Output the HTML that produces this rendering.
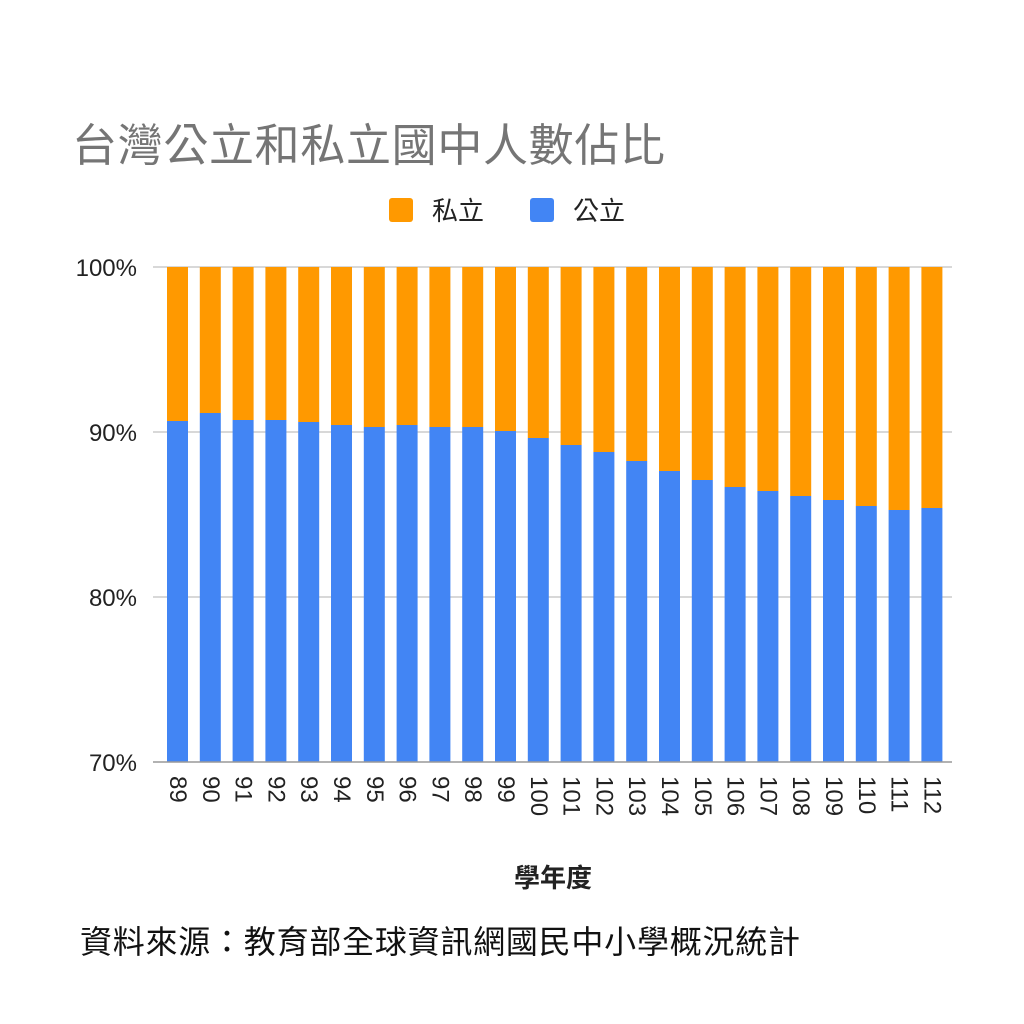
<!DOCTYPE html>
<html><head><meta charset="utf-8"><style>body{margin:0;background:#fff}</style></head><body>
<svg width="1024" height="1024" xmlns="http://www.w3.org/2000/svg" style="display:block">
<rect width="1024" height="1024" fill="#fff"/>
<text x="72" y="161" font-family="Liberation Sans, Noto Sans CJK TC, sans-serif" font-size="45" fill="#757575" textLength="593">台灣公立和私立國中人數佔比</text>
<rect x="389" y="198" width="24" height="24" rx="3" fill="#ff9900"/>
<text x="432" y="220" font-family="Liberation Sans, Noto Sans CJK TC, sans-serif" font-size="26" fill="#222">私立</text>
<rect x="530" y="198" width="24" height="24" rx="3" fill="#4285f4"/>
<text x="573" y="220" font-family="Liberation Sans, Noto Sans CJK TC, sans-serif" font-size="26" fill="#222">公立</text>
<g stroke="#ccc" stroke-width="1.5">
<line x1="153" y1="267" x2="952" y2="267"/><line x1="153" y1="432" x2="952" y2="432"/><line x1="153" y1="597" x2="952" y2="597"/>
</g>
<g font-family="Liberation Sans, sans-serif" font-size="24" fill="#222" text-anchor="end">
<text x="137" y="276">100%</text><text x="137" y="441">90%</text><text x="137" y="606">80%</text><text x="137" y="771">70%</text>
</g>
<g id="bars"></g>
<line x1="153" y1="762" x2="952" y2="762" stroke="#999" stroke-width="1.5"/>
<g id="labels" font-family="Liberation Sans, sans-serif" font-size="24" fill="#222"></g>
<text x="553" y="887" text-anchor="middle" font-family="Liberation Sans, Noto Sans CJK TC, sans-serif" font-size="26" font-weight="bold" fill="#222">學年度</text>
<text x="80" y="953" font-family="Liberation Sans, Noto Sans CJK TC, sans-serif" font-size="32" fill="#111" textLength="720">資料來源：教育部全球資訊網國民中小學概況統計</text>
</svg>
<script>
var tops=[421,413,420,420,422,425,427,425,427,427,431,438,445,452,461,471,480,487,491,496,500,506,510,508];
var b=document.getElementById('bars'),l=document.getElementById('labels'),h='';
for(var i=0;i<24;i++){var x=167+i*32.8;
h+='<rect x="'+x+'" y="267" width="21" height="'+(tops[i]-267)+'" fill="#ff9900"/>';
h+='<rect x="'+x+'" y="'+tops[i]+'" width="21" height="'+(762-tops[i])+'" fill="#4285f4"/>';}
b.innerHTML=h;h='';
for(var i=0;i<24;i++){var cx=167+i*32.8+10.5;
h+='<text transform="translate('+cx+',776) rotate(90)" dominant-baseline="central">'+(89+i)+'</text>';}
l.innerHTML=h;
</script>
</body></html>
